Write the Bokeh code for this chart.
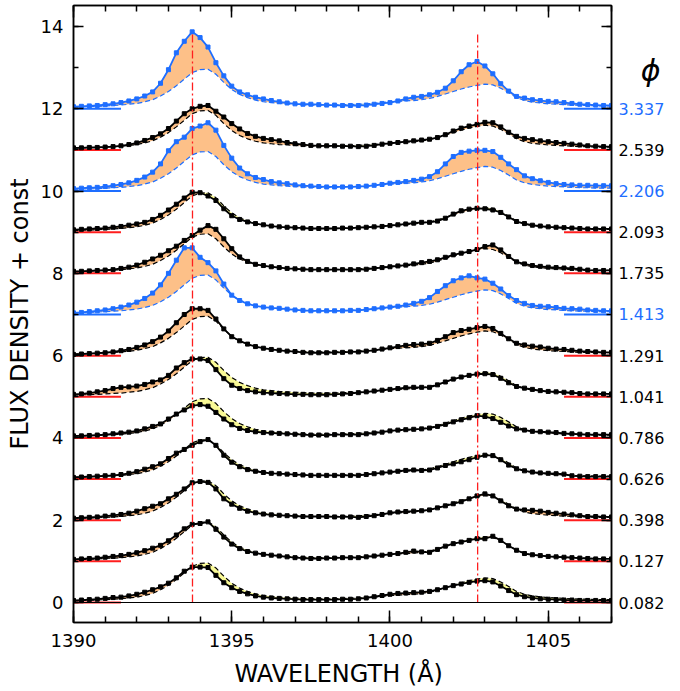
import numpy as np
from bokeh.plotting import figure
from bokeh.layouts import row
from bokeh.models import (Range1d, LinearAxis, SingleIntervalTicker, ColumnDataSource, Span)
from bokeh.core.properties import value
from bokeh.embed import file_html
from bokeh.resources import INLINE

# ---------------- data ----------------
WAVELENGTH = np.round(np.arange(1390.0, 1407.001, 0.25), 2)   # Angstrom grid
SI_IV_LINES = [1393.76, 1402.77]
MARK_LEFT = [1390.0, 1391.5]
MARK_RIGHT = [1405.5, 1407.0]

PHASES = ["0.082", "0.127", "0.398", "0.626", "0.786", "1.041", "1.291",
          "1.413", "1.735", "2.093", "2.206", "2.539", "3.337"]
OFFSETS = [0, 1, 2, 3, 4, 5, 6, 7, 8, 9, 10, 11, 12]
FLARE = [False, False, False, False, False, False, False,
         True, False, False, True, False, True]

TEMPLATE = [0.04, 0.05, 0.05, 0.06, 0.07, 0.08, 0.09, 0.11, 0.13, 0.17, 0.22, 0.31,
            0.42, 0.56, 0.72, 0.88, 0.95, 0.96, 0.84, 0.64, 0.47, 0.35, 0.27, 0.21,
            0.17, 0.15, 0.13, 0.12, 0.11, 0.10, 0.09, 0.09, 0.09, 0.09, 0.10, 0.10,
            0.11, 0.12, 0.13, 0.15, 0.17, 0.18, 0.19, 0.20, 0.22, 0.25, 0.30, 0.36,
            0.42, 0.48, 0.53, 0.57, 0.60, 0.58, 0.50, 0.39, 0.27, 0.20, 0.16, 0.14,
            0.12, 0.11, 0.10, 0.09, 0.08, 0.08, 0.07, 0.07, 0.07]

FLUX_0082 = [0.05, 0.06, 0.07, 0.08, 0.10, 0.12, 0.13, 0.16, 0.20, 0.25, 0.31, 0.38,
             0.47, 0.60, 0.76, 0.86, 0.86, 0.85, 0.66, 0.48, 0.36, 0.27, 0.21, 0.16,
             0.13, 0.11, 0.10, 0.09, 0.08, 0.07, 0.07, 0.07, 0.07, 0.07, 0.08, 0.08,
             0.09, 0.11, 0.14, 0.17, 0.20, 0.22, 0.23, 0.24, 0.25, 0.27, 0.31, 0.36,
             0.41, 0.45, 0.49, 0.52, 0.53, 0.50, 0.40, 0.29, 0.19, 0.14, 0.11, 0.09,
             0.08, 0.07, 0.06, 0.06, 0.05, 0.05, 0.05, 0.05, 0.05]
FLUX_0127 = [0.05, 0.06, 0.07, 0.08, 0.10, 0.12, 0.14, 0.17, 0.21, 0.26, 0.32, 0.39,
             0.50, 0.64, 0.79, 0.90, 0.92, 0.96, 0.78, 0.59, 0.42, 0.31, 0.24, 0.20,
             0.17, 0.15, 0.13, 0.11, 0.09, 0.08, 0.07, 0.07, 0.08, 0.08, 0.09, 0.09,
             0.09, 0.11, 0.13, 0.15, 0.17, 0.19, 0.22, 0.25, 0.23, 0.22, 0.29, 0.37,
             0.43, 0.47, 0.51, 0.55, 0.55, 0.61, 0.51, 0.38, 0.27, 0.19, 0.16, 0.14,
             0.12, 0.11, 0.10, 0.09, 0.08, 0.07, 0.06, 0.06, 0.06]
FLUX_0398 = [0.05, 0.06, 0.07, 0.08, 0.10, 0.12, 0.14, 0.17, 0.22, 0.28, 0.34, 0.40,
             0.52, 0.63, 0.76, 0.91, 0.94, 0.92, 0.76, 0.52, 0.39, 0.29, 0.22, 0.18,
             0.15, 0.13, 0.12, 0.11, 0.10, 0.09, 0.09, 0.09, 0.09, 0.08, 0.08, 0.08,
             0.07, 0.09, 0.11, 0.14, 0.18, 0.20, 0.21, 0.22, 0.23, 0.25, 0.30, 0.35,
             0.40, 0.45, 0.52, 0.59, 0.64, 0.59, 0.47, 0.35, 0.27, 0.25, 0.24, 0.22,
             0.19, 0.17, 0.15, 0.13, 0.11, 0.09, 0.09, 0.08, 0.08]
FLUX_0626 = [0.04, 0.05, 0.06, 0.07, 0.08, 0.09, 0.11, 0.14, 0.18, 0.24, 0.30, 0.37,
             0.50, 0.63, 0.72, 0.82, 0.91, 0.96, 0.82, 0.58, 0.41, 0.30, 0.23, 0.19,
             0.16, 0.14, 0.13, 0.12, 0.11, 0.10, 0.09, 0.09, 0.09, 0.09, 0.09, 0.09,
             0.09, 0.11, 0.13, 0.15, 0.17, 0.19, 0.21, 0.22, 0.21, 0.22, 0.27, 0.33,
             0.37, 0.42, 0.47, 0.53, 0.58, 0.57, 0.47, 0.34, 0.25, 0.20, 0.17, 0.15,
             0.14, 0.13, 0.12, 0.08, 0.07, 0.06, 0.06, 0.06, 0.06]
FLUX_0786 = [0.05, 0.05, 0.06, 0.07, 0.08, 0.10, 0.12, 0.14, 0.17, 0.22, 0.28, 0.34,
             0.46, 0.58, 0.68, 0.78, 0.81, 0.77, 0.62, 0.46, 0.32, 0.23, 0.18, 0.15,
             0.13, 0.12, 0.11, 0.10, 0.09, 0.08, 0.07, 0.07, 0.07, 0.08, 0.08, 0.08,
             0.08, 0.10, 0.12, 0.14, 0.17, 0.19, 0.20, 0.21, 0.22, 0.24, 0.28, 0.33,
             0.39, 0.44, 0.49, 0.54, 0.52, 0.47, 0.38, 0.29, 0.22, 0.19, 0.16, 0.15,
             0.14, 0.13, 0.11, 0.10, 0.09, 0.08, 0.08, 0.08, 0.08]
FLUX_1041 = [0.06, 0.07, 0.09, 0.12, 0.15, 0.20, 0.23, 0.24, 0.26, 0.30, 0.36, 0.41,
             0.52, 0.70, 0.83, 0.92, 0.92, 0.88, 0.66, 0.44, 0.28, 0.20, 0.15, 0.12,
             0.10, 0.09, 0.08, 0.07, 0.06, 0.06, 0.05, 0.05, 0.05, 0.06, 0.07, 0.08,
             0.10, 0.12, 0.14, 0.16, 0.18, 0.20, 0.22, 0.23, 0.23, 0.23, 0.29, 0.36,
             0.43, 0.48, 0.52, 0.55, 0.56, 0.54, 0.45, 0.34, 0.25, 0.21, 0.18, 0.15,
             0.13, 0.12, 0.11, 0.10, 0.08, 0.07, 0.07, 0.07, 0.07]
FLUX_1291 = [0.03, 0.04, 0.05, 0.06, 0.07, 0.09, 0.12, 0.15, 0.20, 0.26, 0.34, 0.45,
             0.60, 0.80, 1.00, 1.14, 1.14, 1.10, 0.89, 0.65, 0.46, 0.36, 0.28, 0.22,
             0.18, 0.15, 0.13, 0.11, 0.10, 0.08, 0.07, 0.07, 0.07, 0.08, 0.08, 0.09,
             0.09, 0.11, 0.13, 0.16, 0.19, 0.22, 0.25, 0.27, 0.28, 0.30, 0.37, 0.46,
             0.56, 0.61, 0.64, 0.68, 0.71, 0.66, 0.54, 0.41, 0.30, 0.26, 0.23, 0.21,
             0.18, 0.16, 0.15, 0.13, 0.11, 0.10, 0.09, 0.08, 0.08]
FLUX_1413 = [0.04, 0.05, 0.07, 0.09, 0.11, 0.14, 0.18, 0.23, 0.30, 0.39, 0.52, 0.72,
             1.00, 1.32, 1.62, 1.62, 1.39, 1.26, 1.06, 0.74, 0.47, 0.34, 0.26, 0.21,
             0.18, 0.16, 0.15, 0.13, 0.11, 0.10, 0.09, 0.09, 0.09, 0.09, 0.09, 0.10,
             0.10, 0.12, 0.14, 0.16, 0.18, 0.20, 0.23, 0.27, 0.32, 0.41, 0.56, 0.70,
             0.82, 0.89, 0.94, 0.89, 0.86, 0.76, 0.62, 0.46, 0.34, 0.27, 0.22, 0.20,
             0.19, 0.17, 0.15, 0.14, 0.13, 0.11, 0.10, 0.09, 0.09]
FLUX_1735 = [0.05, 0.05, 0.06, 0.07, 0.08, 0.09, 0.12, 0.15, 0.20, 0.27, 0.35, 0.44,
             0.55, 0.66, 0.80, 0.92, 1.05, 1.16, 1.07, 0.84, 0.60, 0.40, 0.29, 0.22,
             0.19, 0.16, 0.14, 0.12, 0.11, 0.10, 0.09, 0.09, 0.09, 0.09, 0.09, 0.09,
             0.09, 0.10, 0.12, 0.14, 0.16, 0.18, 0.20, 0.23, 0.26, 0.29, 0.33, 0.39,
             0.45, 0.49, 0.53, 0.58, 0.65, 0.69, 0.57, 0.41, 0.28, 0.23, 0.19, 0.17,
             0.15, 0.14, 0.13, 0.12, 0.10, 0.08, 0.07, 0.07, 0.07]
FLUX_2093 = [0.06, 0.07, 0.08, 0.09, 0.10, 0.12, 0.14, 0.17, 0.20, 0.24, 0.31, 0.41,
             0.54, 0.68, 0.83, 0.97, 0.96, 0.88, 0.77, 0.57, 0.40, 0.31, 0.25, 0.21,
             0.18, 0.15, 0.13, 0.12, 0.11, 0.10, 0.09, 0.09, 0.09, 0.09, 0.10, 0.10,
             0.11, 0.12, 0.13, 0.14, 0.16, 0.18, 0.20, 0.22, 0.24, 0.24, 0.27, 0.34,
             0.44, 0.52, 0.56, 0.58, 0.57, 0.54, 0.48, 0.37, 0.26, 0.21, 0.17, 0.15,
             0.13, 0.12, 0.11, 0.10, 0.09, 0.08, 0.08, 0.08, 0.08]
FLUX_2206 = [0.06, 0.07, 0.08, 0.09, 0.11, 0.13, 0.16, 0.20, 0.26, 0.34, 0.46, 0.66,
             0.98, 1.20, 1.31, 1.52, 1.58, 1.66, 1.48, 1.11, 0.80, 0.56, 0.42, 0.33,
             0.28, 0.23, 0.20, 0.18, 0.15, 0.13, 0.12, 0.11, 0.10, 0.10, 0.10, 0.10,
             0.11, 0.12, 0.14, 0.16, 0.19, 0.21, 0.23, 0.26, 0.29, 0.35, 0.47, 0.66,
             0.84, 0.94, 0.97, 0.99, 0.99, 0.96, 0.82, 0.66, 0.52, 0.37, 0.30, 0.25,
             0.21, 0.18, 0.16, 0.15, 0.14, 0.14, 0.13, 0.13, 0.13]
FLUX_2539 = [0.05, 0.05, 0.06, 0.06, 0.07, 0.08, 0.10, 0.13, 0.17, 0.23, 0.30, 0.39,
             0.52, 0.70, 0.88, 1.00, 1.06, 1.08, 0.94, 0.80, 0.64, 0.51, 0.40, 0.33,
             0.28, 0.25, 0.22, 0.18, 0.15, 0.13, 0.11, 0.10, 0.10, 0.10, 0.09, 0.09,
             0.08, 0.09, 0.11, 0.14, 0.16, 0.18, 0.20, 0.22, 0.24, 0.26, 0.30, 0.37,
             0.46, 0.53, 0.58, 0.62, 0.67, 0.66, 0.56, 0.43, 0.33, 0.28, 0.25, 0.22,
             0.20, 0.18, 0.16, 0.14, 0.12, 0.10, 0.09, 0.08, 0.08]
FLUX_3337 = [0.05, 0.06, 0.07, 0.08, 0.10, 0.12, 0.15, 0.19, 0.24, 0.31, 0.41, 0.62,
             0.95, 1.36, 1.64, 1.87, 1.73, 1.50, 1.12, 0.80, 0.55, 0.41, 0.34, 0.28,
             0.24, 0.20, 0.17, 0.14, 0.12, 0.11, 0.11, 0.10, 0.09, 0.09, 0.08, 0.08,
             0.08, 0.09, 0.11, 0.13, 0.15, 0.19, 0.24, 0.28, 0.30, 0.34, 0.40, 0.50,
             0.68, 0.90, 1.07, 1.15, 1.04, 0.85, 0.61, 0.43, 0.30, 0.26, 0.22, 0.20,
             0.18, 0.17, 0.15, 0.13, 0.11, 0.10, 0.09, 0.08, 0.08]

SPECTRA = [FLUX_0082, FLUX_0127, FLUX_0398, FLUX_0626, FLUX_0786, FLUX_1041,
           FLUX_1291, FLUX_1413, FLUX_1735, FLUX_2093, FLUX_2206, FLUX_2539,
           FLUX_3337]

# ---------------- style ----------------
BLUE = "#1e6eff"
BLACK = "#000000"
RED = "#ff1e1e"
ORANGE_FILL = "#fdc088"
YELLOW_FILL = "#fafa96"
FONT = "DejaVu Sans"

H = 690
BT, BB = 5, 68
YR = Range1d(-0.486, 14.51)

p = figure(width=613, height=H,
           x_range=Range1d(1390, 1407), y_range=YR,
           output_backend="svg", toolbar_location=None,
           min_border_left=73, min_border_right=2, min_border_top=BT,
           min_border_bottom=BB)
p.xgrid.visible = False
p.ygrid.visible = False
p.outline_line_color = "black"
p.outline_line_width = 1.5

p.xaxis.ticker = SingleIntervalTicker(interval=5, num_minor_ticks=5)
p.yaxis.ticker = SingleIntervalTicker(interval=2, num_minor_ticks=2)
for ax in p.xaxis:
    ax.major_tick_in = 12
    ax.minor_tick_in = 6
for ax in p.yaxis:
    ax.major_tick_in = 10
    ax.minor_tick_in = 5
for ax in list(p.xaxis) + list(p.yaxis):
    ax.major_tick_out = 0
    ax.minor_tick_out = 0
    ax.major_tick_line_width = 1.5
    ax.minor_tick_line_width = 1.5
    ax.axis_line_width = 1.5
    ax.major_label_text_font = FONT
    ax.major_label_text_font_size = "18px"
    ax.major_label_text_color = "black"
    ax.axis_label_text_font = FONT
    ax.axis_label_text_font_style = "normal"
    ax.axis_label_text_color = "black"
p.xaxis.major_label_standoff = 11
p.yaxis.major_label_standoff = 10
p.xaxis.axis_label = "WAVELENGTH  (\u00c5)"
p.xaxis.axis_label_text_font_size = "24px"
p.xaxis.axis_label_standoff = 10
p.yaxis.axis_label = "FLUX DENSITY + const"
p.yaxis.axis_label_text_font_size = "24px"
p.yaxis.axis_label_standoff = 4

top = LinearAxis(ticker=SingleIntervalTicker(interval=5, num_minor_ticks=5),
                 major_tick_in=12, major_tick_out=0, minor_tick_in=6, minor_tick_out=0,
                 major_label_text_font_size="1px", major_label_text_color=None,
                 major_label_standoff=0,
                 major_tick_line_width=1.5, minor_tick_line_width=1.5,
                 axis_line_width=1.5)
right = LinearAxis(ticker=SingleIntervalTicker(interval=2, num_minor_ticks=2),
                   major_tick_in=10, major_tick_out=0, minor_tick_in=5, minor_tick_out=0,
                   major_label_text_font_size="1px", major_label_text_color=None,
                   major_label_standoff=0,
                   major_tick_line_width=1.5, minor_tick_line_width=1.5,
                   axis_line_width=1.5)
p.add_layout(top, "above")
p.add_layout(right, "right")

# zero level
p.add_layout(Span(location=0, dimension="width", line_color="black", line_width=1))

x = np.asarray(WAVELENGTH)
tmpl = np.asarray(TEMPLATE)

for flux, off, flare in zip(SPECTRA, OFFSETS, FLARE):
    f = np.asarray(flux)
    col = BLUE if flare else BLACK
    mark_col = BLUE if flare else RED
    upper = np.maximum(f, tmpl)
    lower = np.minimum(f, tmpl)
    p.varea(x=x, y1=tmpl + off, y2=upper + off, fill_color=ORANGE_FILL, fill_alpha=1.0)
    p.varea(x=x, y1=lower + off, y2=tmpl + off, fill_color=YELLOW_FILL, fill_alpha=1.0)
    p.line(x=MARK_LEFT, y=[off, off], line_color=mark_col, line_width=2)
    p.line(x=MARK_RIGHT, y=[off, off], line_color=mark_col, line_width=2)
    p.line(x=x, y=tmpl + off, line_color=col, line_width=1.2, line_dash="5 3")
    p.line(x=x, y=f + off, line_color=col, line_width=1.8)
    p.scatter(x=x, y=f + off, marker="square", size=4, fill_color=col,
              line_color=col)

for lam in SI_IV_LINES:
    p.line(x=[lam, lam], y=[0, 13.85], line_color=RED, line_width=1.3,
           line_dash="8 3 2 3")

# ---------------- phase column ----------------
q = figure(width=63, height=H, x_range=Range1d(0, 1), y_range=YR,
           output_backend="svg", toolbar_location=None,
           x_axis_location=None, y_axis_location=None,
           min_border_left=0, min_border_right=0, min_border_top=BT,
           min_border_bottom=BB)
q.xgrid.visible = False
q.ygrid.visible = False
q.outline_line_color = None

src = ColumnDataSource(dict(
    x=[0.08] * len(PHASES), y=OFFSETS, text=PHASES,
    color=[BLUE if f else BLACK for f in FLARE]))
q.text(x="x", y="y", text="text", source=src, text_color="color",
       text_font=value(FONT), text_font_size=value("16px"),
       text_baseline="middle", text_align="left")
q.text(x=[0.59], y=[12.93], text=["\u03d5"], text_color="black",
       text_font=value(FONT), text_font_size=value("30px"),
       text_font_style="italic", text_baseline="middle", text_align="center")

layout = row(p, q)
open("out.html", "w").write(file_html(layout, INLINE))
